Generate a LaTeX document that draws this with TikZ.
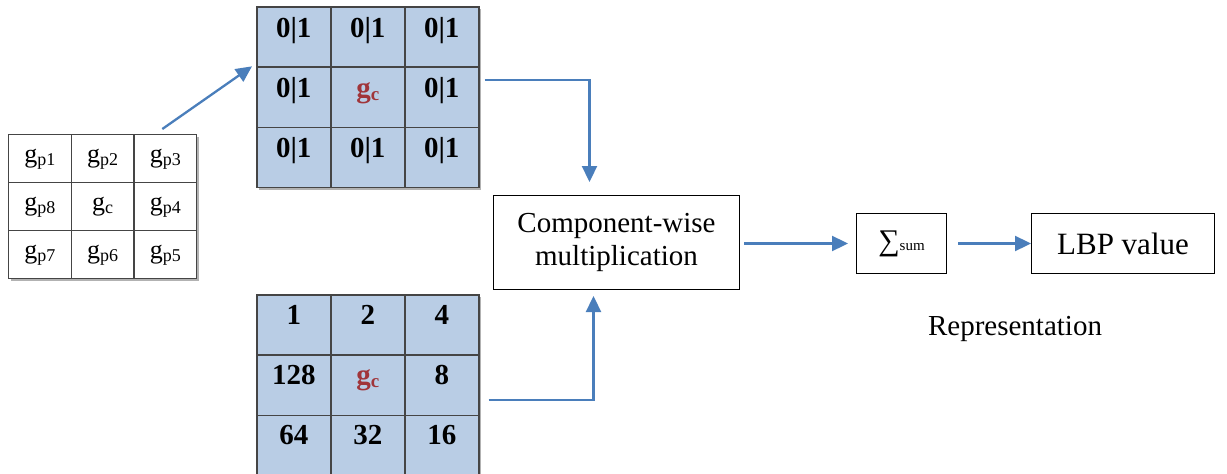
\documentclass[tikz,border=0pt]{standalone}
\usepackage{fontspec}
\setmainfont{Liberation Serif}
\usetikzlibrary{arrows.meta,calc}
\definecolor{arrowblue}{HTML}{4A7EBB}
\definecolor{cellblue}{HTML}{B9CDE5}
\definecolor{gcred}{HTML}{A0353A}
\definecolor{gridline}{HTML}{454545}
\newcommand{\gpx}[1]{g\raisebox{-3pt}{\fontsize{18}{18}\selectfont #1}}
\newcommand{\gcx}{\textcolor{gcred}{g\raisebox{-3pt}{\fontsize{19}{19}\selectfont c}}}
\tikzset{
  whitecell/.style={draw=gridline, line width=1.3pt, fill=white, minimum width=62.67pt,
    minimum height=48pt, inner sep=0pt, anchor=north west},
  bluecell/.style={draw=gridline, line width=1.5pt, fill=cellblue, minimum width=74pt,
    minimum height=60.33pt, inner sep=0pt, anchor=north west},
  gtext/.style={font=\fontsize{26}{28}\selectfont, anchor=base, inner sep=0pt},
  btext/.style={font=\fontsize{29}{32}\selectfont\bfseries, anchor=base, inner sep=0pt},
  box/.style={draw=black, line width=1pt, inner sep=0pt, anchor=north west, align=center},
  flow/.style={draw=arrowblue, line width=2.3pt, -{Triangle[length=16pt,width=15pt]}},
  shadowbox/.style={fill=black!30},
}
\begin{document}
\begin{tikzpicture}[x=1pt,y=-1pt]
\path[use as bounding box] (0,0) rectangle (1227,474);

% shadows
\fill[shadowbox] (10.5,136.5) rectangle (198.5,280.5);
\fill[shadowbox] (258.5,8.5) rectangle (480.5,189.5);
\fill[shadowbox] (258.5,296.5) rectangle (480.5,476.5);

% left grid
\foreach \r in {1,2,3}{
  \foreach \c in {1,2,3}{
    \node[whitecell] (L\r\c) at ({8+62.67*(\c-1)}, {134+48*(\r-1)}) {};
  }
}
% top grid
\foreach \r in {1,2,3}{
  \foreach \c in {1,2,3}{
    \node[bluecell] (T\r\c) at ({256+74*(\c-1)}, {6+60.33*(\r-1)}) {};
  }
}
% bottom grid
\foreach \r in {1,2,3}{
  \foreach \c in {1,2,3}{
    \node[bluecell] (B\r\c) at ({256+74*(\c-1)}, {294+60.33*(\r-1)}) {};
  }
}

% left grid texts
\foreach \cell/\txt in {L11/{\gpx{p1}}, L12/{\gpx{p2}}, L13/{\gpx{p3}},
    L21/{\gpx{p8}}, L22/{\gpx{c}}, L23/{\gpx{p4}},
    L31/{\gpx{p7}}, L32/{\gpx{p6}}, L33/{\gpx{p5}}}{
  \node[gtext] (t\cell) at ($(\cell.north)+(0,28)$) {\txt};
}
% top grid texts
\foreach \cell/\txt in {T11/0|1, T12/0|1, T13/0|1,
    T21/0|1, T22/{\gcx}, T23/0|1,
    T31/0|1, T32/0|1, T33/0|1}{
  \node[btext] (t\cell) at ($(\cell.north)+(0,31)$) {\txt};
}
% bottom grid texts
\foreach \cell/\txt in {B11/1, B12/2, B13/4,
    B21/128, B22/{\gcx}, B23/8,
    B31/64, B32/32, B33/16}{
  \node[btext] (t\cell) at ($(\cell.north)+(0,30)$) {\txt};
}

% boxes
\node[box, minimum width=246pt, minimum height=94pt, font=\fontsize{29}{33.5}\selectfont]
  (comp) at (493,195) {Component-wise\\multiplication};
\node[box, minimum width=90pt, minimum height=60pt]
  (sum) at (856,213) {{\fontsize{30}{30}\selectfont ∑}{\fontsize{15}{15}\selectfont sum}};
\node[box, minimum width=183pt, minimum height=60pt, font=\fontsize{31}{34}\selectfont]
  (lbp) at (1031,213) {LBP value};
\node[font=\fontsize{29}{32}\selectfont, anchor=base, inner sep=0pt] (rep) at (1015,335) {Representation};

% connectors
\coordinate (a1s) at ($(L13.north)+(-3,-5)$);
\coordinate (a1e) at ($(T21.north west)+(-4,0)$);
\draw[flow] (a1s) -- (a1e);

\coordinate (a2s) at ($(T23.east)+(5,-17.5)$);
\coordinate (a2e) at ($(comp.north)+(-27,-13)$);
\draw[flow] (a2s) -| (a2e);

\coordinate (a3s) at ($(B23.east)+(9,15)$);
\coordinate (a3e) at ($(comp.south)+(-23,6)$);
\draw[flow] (a3s) -| (a3e);

\coordinate (a4s) at ($(comp.east)+(4,1)$);
\coordinate (a4e) at ($(sum.west)+(-8,0)$);
\draw[flow] (a4s) -- (a4s -| a4e);

\coordinate (a5s) at ($(sum.east)+(11,0)$);
\draw[flow] (a5s) -- (a5s -| lbp.west);
\end{tikzpicture}
\end{document}
